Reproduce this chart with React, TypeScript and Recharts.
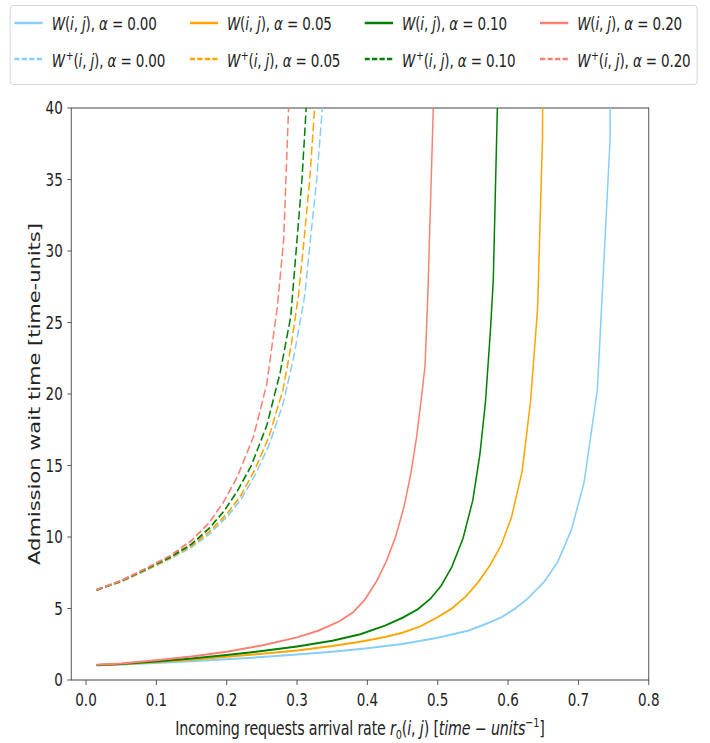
import React from 'react';
import { LineChart, Line, XAxis, YAxis, ReferenceArea } from 'recharts';

// the reference figure is squeezed horizontally, so the chart is drawn wider and scaled back
const SQUEEZE = 0.75;
const WIDE = 947;

const X_TICKS = [0, 0.1, 0.2, 0.3, 0.4, 0.5, 0.6, 0.7, 0.8];
const Y_TICKS = [0, 5, 10, 15, 20, 25, 30, 35, 40];
const X_DOMAIN: [number, number] = [-0.021, 0.8];
const Y_DOMAIN: [number, number] = [0, 40];

// W(i,j) curves, [rate, wait]
const W_000: [number, number][] = [
  [0.015, 1.02], [0.05, 1.08], [0.1, 1.19], [0.15, 1.31], [0.2, 1.45], [0.25, 1.6],
  [0.3, 1.78], [0.35, 1.98], [0.4, 2.22], [0.45, 2.52], [0.5, 2.95], [0.543, 3.45],
  [0.57, 3.95], [0.591, 4.4], [0.61, 5.0], [0.628, 5.7], [0.652, 6.9], [0.671, 8.3],
  [0.69, 10.5], [0.708, 13.8], [0.727, 20.3], [0.745, 37.8], [0.764, 300],
];
const W_005: [number, number][] = [
  [0.015, 1.04], [0.05, 1.1], [0.1, 1.25], [0.15, 1.42], [0.2, 1.62], [0.25, 1.83],
  [0.3, 2.07], [0.35, 2.37], [0.39, 2.68], [0.425, 3.0], [0.45, 3.3], [0.475, 3.75],
  [0.5, 4.4], [0.52, 5.0], [0.539, 5.8], [0.557, 6.8], [0.574, 8.0], [0.59, 9.4],
  [0.605, 11.4], [0.62, 14.6], [0.632, 19.5], [0.642, 26], [0.649, 38], [0.66, 300],
];
const W_010: [number, number][] = [
  [0.015, 1.05], [0.05, 1.12], [0.1, 1.3], [0.15, 1.5], [0.2, 1.75], [0.25, 2.02],
  [0.3, 2.35], [0.35, 2.75], [0.39, 3.2], [0.425, 3.8], [0.45, 4.35], [0.472, 4.95],
  [0.49, 5.7], [0.505, 6.6], [0.52, 7.9], [0.536, 9.9], [0.55, 12.6], [0.56, 15.8],
  [0.568, 19.5], [0.575, 24.5], [0.579, 28], [0.585, 40.5], [0.59, 300],
];
const W_020: [number, number][] = [
  [0.015, 1.06], [0.05, 1.15], [0.1, 1.38], [0.15, 1.65], [0.2, 1.98], [0.25, 2.42],
  [0.3, 2.98], [0.33, 3.45], [0.36, 4.1], [0.38, 4.75], [0.396, 5.6], [0.413, 6.9],
  [0.427, 8.3], [0.44, 10.0], [0.452, 12.1], [0.462, 14.5], [0.47, 17.0], [0.477, 19.8],
  [0.482, 22], [0.486, 27], [0.494, 40.5], [0.5, 300],
];

// W+(i,j) curves
const WP_000: [number, number][] = [
  [0.015, 6.3], [0.05, 6.88], [0.087, 7.7], [0.12, 8.5], [0.15, 9.3], [0.175, 10.2],
  [0.2, 11.4], [0.22, 12.6], [0.24, 14.3], [0.26, 16.4], [0.28, 19.3], [0.295, 22.5],
  [0.311, 26.9], [0.319, 30.8], [0.328, 35], [0.336, 40], [0.339, 44],
];
const WP_005: [number, number][] = [
  [0.015, 6.3], [0.05, 6.9], [0.087, 7.75], [0.12, 8.55], [0.15, 9.4], [0.175, 10.35],
  [0.2, 11.6], [0.22, 12.9], [0.24, 14.7], [0.26, 17.0], [0.28, 20.3], [0.292, 23.5],
  [0.302, 26.9], [0.31, 30.8], [0.318, 35], [0.325, 40], [0.328, 44],
];
const WP_010: [number, number][] = [
  [0.015, 6.3], [0.05, 6.92], [0.087, 7.8], [0.12, 8.6], [0.15, 9.5], [0.175, 10.6],
  [0.196, 11.8], [0.215, 13.2], [0.235, 15.0], [0.257, 17.8], [0.276, 21.5], [0.291, 25.4],
  [0.3, 30.8], [0.307, 35], [0.313, 40], [0.316, 44],
];
const WP_020: [number, number][] = [
  [0.015, 6.3], [0.05, 6.95], [0.087, 7.85], [0.12, 8.7], [0.15, 9.75], [0.175, 11.0],
  [0.195, 12.4], [0.215, 14.2], [0.238, 17.0], [0.257, 20.7], [0.272, 26.1], [0.281, 30.8],
  [0.2895, 42],
];

const ALPHAS = ['0.00', '0.05', '0.10', '0.20'];
const COLORS = ['#87CEFA', '#FFA500', '#008000', '#FA8072'];
const SOLID = [W_000, W_005, W_010, W_020];
const DASHED = [WP_000, WP_005, WP_010, WP_020];

const toPoints = (rows: [number, number][]) => rows.map(([x, y]) => ({ x, y }));

// matplotlib draws W, W+ for each alpha in turn
const SERIES = ALPHAS.flatMap((alpha, i) => [
  { key: `w-${alpha}`, alpha, plus: false, color: COLORS[i], data: toPoints(SOLID[i]) },
  { key: `wp-${alpha}`, alpha, plus: true, color: COLORS[i], data: toPoints(DASHED[i]) },
]);

const DASH = '8.5 3.5';

function SeriesLabel({ alpha, plus }: { alpha: string; plus: boolean }) {
  return (
    <span>
      <i>W</i>
      {plus && <sup style={{ fontSize: '0.7em', marginLeft: 1 }}>+</sup>}
      (<i>i</i>, <i>j</i>), <i>α</i> = {alpha}
    </span>
  );
}

function LegendBox() {
  return (
    <div
      style={{
        position: 'absolute',
        left: 13,
        top: 5,
        width: 915,
        height: 78,
        border: '1px solid #d0d0d0',
        borderRadius: 4,
        background: '#fff',
      }}
    >
      {SERIES.map((s, idx) => {
        const col = Math.floor(idx / 2);
        const row = idx % 2;
        return (
          <div
            key={s.key}
            style={{
              position: 'absolute',
              left: 5 + col * 233.5,
              top: 8 + row * 36,
              height: 18,
              display: 'flex',
              alignItems: 'center',
              fontSize: 18,
              color: '#222',
              whiteSpace: 'nowrap',
              letterSpacing: -0.2,
            }}
          >
            <svg width={38} height={6} style={{ marginRight: 12 }}>
              <line
                x1={0}
                x2={38}
                y1={3}
                y2={3}
                stroke={s.color}
                strokeWidth={2.5}
                strokeDasharray={s.plus ? '7 3' : undefined}
              />
            </svg>
            <SeriesLabel alpha={s.alpha} plus={s.plus} />
          </div>
        );
      })}
    </div>
  );
}

export default function App() {
  return (
    <div
      style={{
        position: 'absolute',
        left: 0,
        top: 0,
        width: 710,
        height: 743,
        overflow: 'hidden',
        background: '#fff',
      }}
    >
      <div
        style={{
          position: 'absolute',
          left: 0,
          top: 0,
          width: WIDE,
          height: 743,
          transform: `scaleX(${SQUEEZE})`,
          transformOrigin: '0 0',
          fontFamily: '"DejaVu Sans", sans-serif',
        }}
      >
        <LineChart width={WIDE} height={743} margin={{ top: 108, right: 82, bottom: 0, left: 0 }}>
          <XAxis
            type="number"
            dataKey="x"
            domain={X_DOMAIN}
            ticks={X_TICKS}
            allowDataOverflow
            tickFormatter={(v: number) => v.toFixed(1)}
            height={63}
            tickSize={5}
            tickMargin={8}
            axisLine={false}
            tickLine={{ stroke: '#444' }}
            tick={{ fontSize: 18, fill: '#222' }}
          />
          <YAxis
            type="number"
            domain={Y_DOMAIN}
            ticks={Y_TICKS}
            allowDataOverflow
            width={95}
            tickSize={5.3}
            tickMargin={6}
            axisLine={false}
            tickLine={{ stroke: '#444' }}
            tick={{ fontSize: 18, fill: '#222' }}
          />
          {SERIES.map((s) => (
            <Line
              key={s.key}
              data={s.data}
              dataKey="y"
              type="linear"
              stroke={s.color}
              strokeWidth={2}
              strokeDasharray={s.plus ? DASH : undefined}
              dot={false}
              activeDot={false}
              isAnimationActive={false}
            />
          ))}
          <ReferenceArea
            x1={X_DOMAIN[0]}
            x2={X_DOMAIN[1]}
            y1={Y_DOMAIN[0]}
            y2={Y_DOMAIN[1]}
            fill="none"
            fillOpacity={0}
            stroke="#444"
            strokeWidth={1.2}
            ifOverflow="visible"
          />
        </LineChart>

        <svg
          width={WIDE}
          height={743}
          style={{ position: 'absolute', left: 0, top: 0, pointerEvents: 'none' }}
        >
          <text
            x={480}
            y={735}
            textAnchor="middle"
            fontSize={19}
            letterSpacing={-0.2}
            fill="#222"
          >
            {'Incoming requests arrival rate '}
            <tspan fontStyle="italic">r</tspan>
            <tspan dy={4} fontSize={13}>0</tspan>
            <tspan dy={-4}>(</tspan>
            <tspan fontStyle="italic">i</tspan>
            {', '}
            <tspan fontStyle="italic">j</tspan>
            {') ['}
            <tspan fontStyle="italic">time − units</tspan>
            <tspan dy={-8} fontSize={13}>−1</tspan>
            <tspan dy={8}>]</tspan>
          </text>
          <text
            transform="translate(53,394) rotate(-90)"
            textAnchor="middle"
            fontSize={21}
            fill="#222"
          >
            Admission wait time [time-units]
          </text>
        </svg>

        <LegendBox />
      </div>
    </div>
  );
}
